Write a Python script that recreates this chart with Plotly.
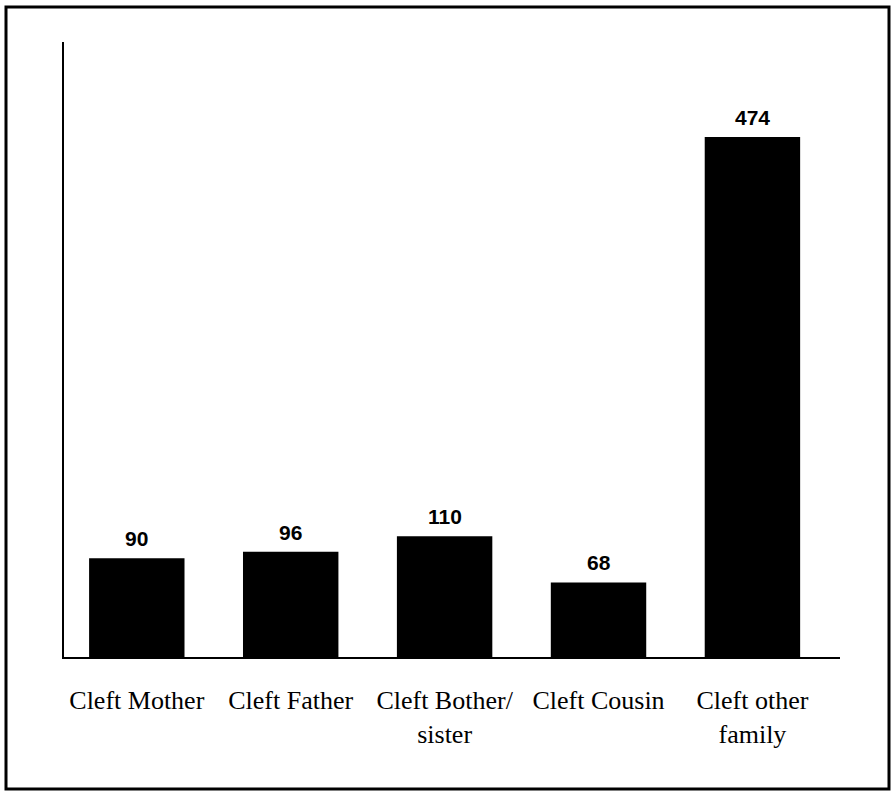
import plotly.graph_objects as go

categories = ["Cleft Mother", "Cleft Father", "Cleft Bother/<br>sister", "Cleft Cousin", "Cleft other<br>family"]
values = [90, 96, 110, 68, 474]

W, H = 892, 793
L, R, T, B = 64, 52, 42, 136
pw, ph = W - L - R, H - T - B

def px_x(x):
    return (x - L) / pw

def px_y(y):
    return (H - B - y) / ph

xs = list(range(len(categories)))

fig = go.Figure(go.Bar(
    x=xs,
    y=values,
    width=0.62,
    marker=dict(color="#000000", line=dict(width=0)),
))

for x, v in zip(xs, values):
    fig.add_annotation(
        x=x, y=v, xref="x", yref="y", text=f"<b>{v}</b>", showarrow=False,
        yanchor="bottom", yshift=6,
        font=dict(family="Liberation Sans Narrow, Arial Narrow, Liberation Sans, Arial", size=21, color="#000000"),
    )

fig.update_layout(
    width=W, height=H,
    margin=dict(l=L, r=R, t=T, b=B),
    paper_bgcolor="white", plot_bgcolor="white",
    showlegend=False,
    font=dict(family="Liberation Serif, Times New Roman, serif", color="#000000"),
    xaxis=dict(
        range=[-0.473, 4.569],
        tickvals=xs,
        ticktext=categories,
        tickfont=dict(family="Liberation Serif, Times New Roman, serif", size=26, color="#000000"),
        ticks="", ticklabelstandoff=19,
        showline=True, linecolor="#000000", linewidth=2,
        showgrid=False, zeroline=False,
    ),
    yaxis=dict(
        range=[0, 560.6],
        showticklabels=False, ticks="",
        showline=True, linecolor="#000000", linewidth=2,
        showgrid=False, zeroline=False,
    ),
    shapes=[dict(
        type="rect", xref="paper", yref="paper",
        x0=px_x(6), x1=px_x(889), y0=px_y(789), y1=px_y(7),
        line=dict(color="#000000", width=3), fillcolor="rgba(0,0,0,0)",
        layer="above",
    )],
)

fig.write_html("out.html", config={"displayModeBar": False},
               post_script="document.body.style.margin='0';")
